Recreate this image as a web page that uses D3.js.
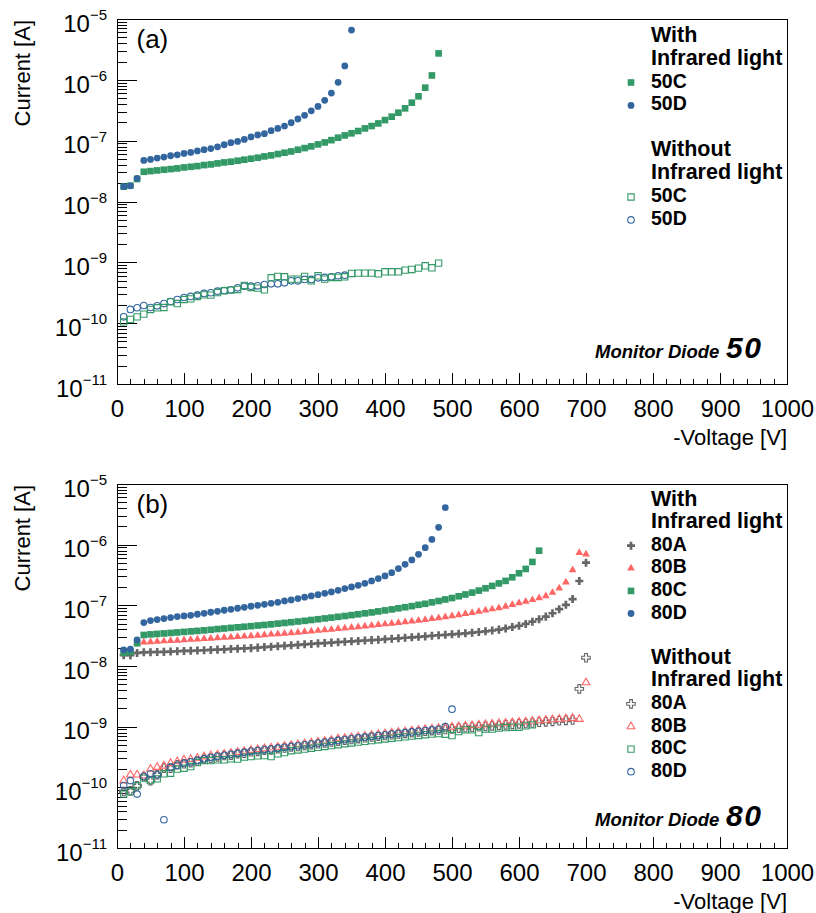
<!DOCTYPE html>
<html>
<head>
<meta charset="utf-8">
<script src="https://cdn.jsdelivr.net/npm/d3@7"></script>
<style>
  html, body { margin: 0; padding: 0; background: #fff; }
  svg { display: block; }
</style>
</head>
<body>
<svg id="chart" width="816" height="913"></svg>
<script>
// ---------------------------------------------------------------
// Leakage current vs reverse bias of the monitor diodes
// ---------------------------------------------------------------

// Bias voltage of each measurement step [V]
const VOLTS = [10, 20, 30, 40, 50, 60, 70, 80, 90, 100,
  110, 120, 130, 140, 150, 160, 170, 180, 190, 200,
  210, 220, 230, 240, 250, 260, 270, 280, 290, 300,
  310, 320, 330, 340, 350, 360, 370, 380, 390, 400,
  410, 420, 430, 440, 450, 460, 470, 480, 490, 500,
  510, 520, 530, 540, 550, 560, 570, 580, 590, 600,
  610, 620, 630, 640, 650, 660, 670, 680, 690, 700];

// Axis ticks
const X_TICKS = [0, 100, 200, 300, 400, 500, 600, 700, 800, 900, 1000];
const Y_TICKS = [1e-11, 1e-10, 1e-9, 1e-8, 1e-7, 1e-6, 1e-5];

// ---- Monitor diode 50: currents [A] ----
const IR_50C = [1.75e-8, 1.82e-8, 2.34e-8, 3.08e-8, 3.16e-8, 3.24e-8, 3.33e-8, 3.41e-8, 3.50e-8, 3.63e-8,
  3.72e-8, 3.82e-8, 3.97e-8, 4.07e-8, 4.23e-8, 4.39e-8, 4.51e-8, 4.68e-8, 4.86e-8, 5.05e-8,
  5.24e-8, 5.51e-8, 5.73e-8, 6.03e-8, 6.34e-8, 6.65e-8, 7.10e-8, 7.55e-8, 8.05e-8, 8.69e-8,
  9.35e-8, 1.02e-7, 1.12e-7, 1.22e-7, 1.32e-7, 1.44e-7, 1.59e-7, 1.74e-7, 1.92e-7, 2.18e-7,
  2.48e-7, 2.88e-7, 3.40e-7, 4.21e-7, 5.35e-7, 7.43e-7, 1.18e-6, 2.72e-6];
const IR_50D = [1.75e-8, 1.81e-8, 2.40e-8, 4.74e-8, 4.92e-8, 5.18e-8, 5.37e-8, 5.65e-8, 5.86e-8, 6.18e-8,
  6.41e-8, 6.78e-8, 7.10e-8, 7.42e-8, 7.94e-8, 8.57e-8, 9.25e-8, 9.73e-8, 1.05e-7, 1.15e-7,
  1.24e-7, 1.30e-7, 1.46e-7, 1.59e-7, 1.74e-7, 1.97e-7, 2.27e-7, 2.61e-7, 3.10e-7, 3.66e-7,
  4.60e-7, 6.07e-7, 9.10e-7, 1.69e-6, 6.59e-6];
const DARK_50C = [1.05e-10, 1.15e-10, 1.27e-10, 1.41e-10, 1.68e-10, 1.79e-10, 1.81e-10, 2.24e-10, 2.10e-10, 2.45e-10,
  2.51e-10, 2.75e-10, 2.92e-10, 2.89e-10, 3.19e-10, 3.40e-10, 3.49e-10, 3.58e-10, 4.17e-10, 3.86e-10,
  3.77e-10, 3.53e-10, 5.57e-10, 5.86e-10, 5.78e-10, 5.30e-10, 5.30e-10, 5.86e-10, 4.97e-10, 6.01e-10,
  5.30e-10, 5.64e-10, 5.64e-10, 5.78e-10, 6.56e-10, 6.64e-10, 6.64e-10, 6.64e-10, 6.48e-10, 6.98e-10,
  6.98e-10, 6.98e-10, 7.44e-10, 7.64e-10, 8.04e-10, 8.77e-10, 8.13e-10, 9.71e-10];
const DARK_50D = [1.27e-10, 1.68e-10, 1.79e-10, 1.95e-10, 1.81e-10, 1.93e-10, 2.10e-10, 2.27e-10, 2.45e-10, 2.64e-10,
  2.75e-10, 2.89e-10, 3.08e-10, 3.16e-10, 3.36e-10, 3.44e-10, 3.53e-10, 3.81e-10, 4.06e-10, 4.06e-10,
  4.11e-10, 4.32e-10, 4.43e-10, 4.43e-10, 4.60e-10, 4.97e-10, 4.97e-10, 5.23e-10, 5.23e-10, 5.57e-10,
  5.64e-10, 5.78e-10, 6.01e-10, 6.15e-10];

// ---- Monitor diode 80: currents [A] ----
const IR_80A = [1.51e-8, 1.51e-8, 1.64e-8, 1.68e-8, 1.69e-8, 1.70e-8, 1.71e-8, 1.73e-8, 1.75e-8, 1.77e-8,
  1.78e-8, 1.80e-8, 1.82e-8, 1.84e-8, 1.86e-8, 1.88e-8, 1.91e-8, 1.93e-8, 1.95e-8, 1.97e-8,
  2.01e-8, 2.05e-8, 2.08e-8, 2.12e-8, 2.15e-8, 2.19e-8, 2.23e-8, 2.28e-8, 2.31e-8, 2.36e-8,
  2.39e-8, 2.43e-8, 2.47e-8, 2.51e-8, 2.55e-8, 2.59e-8, 2.63e-8, 2.67e-8, 2.71e-8, 2.77e-8,
  2.81e-8, 2.86e-8, 2.92e-8, 2.97e-8, 3.03e-8, 3.08e-8, 3.15e-8, 3.21e-8, 3.27e-8, 3.33e-8,
  3.39e-8, 3.46e-8, 3.54e-8, 3.63e-8, 3.73e-8, 3.85e-8, 3.98e-8, 4.16e-8, 4.38e-8, 4.61e-8,
  4.94e-8, 5.38e-8, 5.90e-8, 6.51e-8, 7.41e-8, 8.63e-8, 1.02e-7, 1.27e-7, 2.52e-7, 5.05e-7];
const IR_80B = [1.66e-8, 1.66e-8, 2.43e-8, 2.47e-8, 2.49e-8, 2.53e-8, 2.57e-8, 2.60e-8, 2.64e-8, 2.68e-8,
  2.72e-8, 2.77e-8, 2.81e-8, 2.85e-8, 2.89e-8, 2.94e-8, 2.98e-8, 3.03e-8, 3.08e-8, 3.13e-8,
  3.19e-8, 3.25e-8, 3.32e-8, 3.38e-8, 3.44e-8, 3.51e-8, 3.58e-8, 3.66e-8, 3.74e-8, 3.83e-8,
  3.92e-8, 4.01e-8, 4.10e-8, 4.20e-8, 4.31e-8, 4.41e-8, 4.53e-8, 4.65e-8, 4.77e-8, 4.90e-8,
  5.03e-8, 5.17e-8, 5.31e-8, 5.47e-8, 5.64e-8, 5.81e-8, 5.99e-8, 6.20e-8, 6.44e-8, 6.69e-8,
  6.95e-8, 7.24e-8, 7.55e-8, 7.91e-8, 8.27e-8, 8.66e-8, 9.06e-8, 9.55e-8, 1.02e-7, 1.09e-7,
  1.16e-7, 1.23e-7, 1.32e-7, 1.43e-7, 1.62e-7, 1.91e-7, 2.40e-7, 3.83e-7, 7.38e-7, 6.95e-7];
const IR_80C = [1.66e-8, 1.71e-8, 2.37e-8, 3.25e-8, 3.32e-8, 3.38e-8, 3.44e-8, 3.51e-8, 3.58e-8, 3.65e-8,
  3.72e-8, 3.79e-8, 3.87e-8, 3.96e-8, 4.06e-8, 4.15e-8, 4.25e-8, 4.34e-8, 4.44e-8, 4.54e-8,
  4.65e-8, 4.75e-8, 4.86e-8, 5.00e-8, 5.13e-8, 5.27e-8, 5.41e-8, 5.55e-8, 5.73e-8, 5.90e-8,
  6.08e-8, 6.27e-8, 6.47e-8, 6.67e-8, 6.90e-8, 7.13e-8, 7.38e-8, 7.64e-8, 7.94e-8, 8.24e-8,
  8.56e-8, 8.93e-8, 9.31e-8, 9.70e-8, 1.02e-7, 1.06e-7, 1.12e-7, 1.18e-7, 1.25e-7, 1.32e-7,
  1.41e-7, 1.51e-7, 1.62e-7, 1.75e-7, 1.91e-7, 2.09e-7, 2.30e-7, 2.53e-7, 2.90e-7, 3.38e-7,
  3.98e-7, 5.19e-7, 7.96e-7];
const IR_80D = [1.84e-8, 1.89e-8, 2.69e-8, 5.20e-8, 5.61e-8, 5.82e-8, 6.04e-8, 6.28e-8, 6.52e-8, 6.69e-8,
  6.86e-8, 7.13e-8, 7.40e-8, 7.69e-8, 7.98e-8, 8.30e-8, 8.61e-8, 8.95e-8, 9.29e-8, 9.66e-8,
  1.00e-7, 1.04e-7, 1.08e-7, 1.12e-7, 1.18e-7, 1.23e-7, 1.29e-7, 1.36e-7, 1.43e-7, 1.50e-7,
  1.58e-7, 1.66e-7, 1.77e-7, 1.89e-7, 2.01e-7, 2.14e-7, 2.31e-7, 2.52e-7, 2.76e-7, 3.05e-7,
  3.46e-7, 4.03e-7, 4.75e-7, 5.60e-7, 6.94e-7, 8.93e-7, 1.22e-6, 1.93e-6, 4.07e-6];
const DARK_80A = [8.53e-11, 8.75e-11, 1.06e-10, 1.51e-10, 1.29e-10, 1.61e-10, 2.07e-10, 2.07e-10, 2.35e-10, 2.44e-10,
  2.55e-10, 2.70e-10, 2.92e-10, 3.02e-10, 3.18e-10, 3.35e-10, 3.40e-10, 3.60e-10, 3.65e-10, 3.85e-10,
  3.92e-10, 4.10e-10, 4.15e-10, 4.35e-10, 4.45e-10, 4.62e-10, 4.72e-10, 4.90e-10, 5.05e-10, 5.22e-10,
  5.40e-10, 5.60e-10, 5.78e-10, 5.98e-10, 6.15e-10, 6.35e-10, 6.55e-10, 6.75e-10, 6.95e-10, 7.15e-10,
  7.35e-10, 7.55e-10, 7.75e-10, 7.98e-10, 8.20e-10, 8.40e-10, 8.60e-10, 8.80e-10, 9.00e-10, 9.20e-10,
  9.40e-10, 9.60e-10, 9.78e-10, 9.96e-10, 1.01e-9, 1.03e-9, 1.05e-9, 1.07e-9, 1.09e-9, 1.11e-9,
  1.13e-9, 1.15e-9, 1.18e-9, 1.20e-9, 1.22e-9, 1.25e-9, 1.27e-9, 1.29e-9, 4.20e-9, 1.37e-8];
const DARK_80B = [1.29e-10, 1.61e-10, 1.61e-10, 1.55e-10, 2.00e-10, 2.15e-10, 2.26e-10, 2.50e-10, 2.66e-10, 2.84e-10,
  2.90e-10, 3.05e-10, 3.20e-10, 3.35e-10, 3.45e-10, 3.55e-10, 3.68e-10, 3.80e-10, 3.95e-10, 4.10e-10,
  4.22e-10, 4.35e-10, 4.48e-10, 4.62e-10, 4.78e-10, 4.92e-10, 5.07e-10, 5.25e-10, 5.41e-10, 5.60e-10,
  5.79e-10, 6.00e-10, 6.35e-10, 6.42e-10, 6.62e-10, 6.82e-10, 7.03e-10, 7.25e-10, 7.47e-10, 7.70e-10,
  7.91e-10, 8.12e-10, 8.34e-10, 8.56e-10, 8.80e-10, 9.04e-10, 9.25e-10, 9.46e-10, 9.67e-10, 9.90e-10,
  1.01e-9, 1.03e-9, 1.05e-9, 1.07e-9, 1.09e-9, 1.11e-9, 1.13e-9, 1.15e-9, 1.17e-9, 1.19e-9,
  1.21e-9, 1.24e-9, 1.26e-9, 1.29e-9, 1.31e-9, 1.34e-9, 1.36e-9, 1.38e-9, 1.33e-9, 5.33e-9];
const DARK_80C = [7.73e-11, 8.53e-11, 1.06e-10, 1.42e-10, 1.29e-10, 1.38e-10, 1.67e-10, 1.71e-10, 2.00e-10, 2.07e-10,
  2.20e-10, 2.56e-10, 2.76e-10, 2.76e-10, 2.84e-10, 2.84e-10, 2.95e-10, 2.92e-10, 3.15e-10, 3.22e-10,
  3.30e-10, 3.34e-10, 3.22e-10, 3.56e-10, 3.74e-10, 4.01e-10, 4.13e-10, 4.28e-10, 4.41e-10, 4.57e-10,
  4.72e-10, 4.89e-10, 5.05e-10, 5.23e-10, 5.39e-10, 5.56e-10, 5.73e-10, 5.91e-10, 6.09e-10, 6.27e-10,
  6.45e-10, 6.62e-10, 6.79e-10, 6.98e-10, 7.17e-10, 7.37e-10, 7.53e-10, 7.71e-10, 7.50e-10, 7.13e-10,
  8.30e-10, 8.86e-10, 8.86e-10, 8.00e-10, 9.10e-10, 9.10e-10, 9.45e-10, 9.67e-10, 9.81e-10, 9.81e-10,
  1.03e-9, 1.07e-9];
const DARK_80D = [1.07e-10, 1.29e-10, 7.73e-11, 1.51e-10, 1.67e-10, 1.61e-10, 2.92e-11, 2.15e-10, 2.30e-10, 2.50e-10,
  2.63e-10, 2.78e-10, 2.95e-10, 3.12e-10, 3.24e-10, 3.37e-10, 3.50e-10, 3.63e-10, 3.77e-10, 3.93e-10,
  4.04e-10, 4.15e-10, 4.28e-10, 4.42e-10, 4.57e-10, 4.70e-10, 4.85e-10, 5.02e-10, 5.17e-10, 5.36e-10,
  5.54e-10, 5.73e-10, 5.93e-10, 6.13e-10, 6.32e-10, 6.52e-10, 6.72e-10, 6.93e-10, 7.14e-10, 7.35e-10,
  7.56e-10, 7.76e-10, 7.97e-10, 8.18e-10, 8.40e-10, 8.64e-10, 8.83e-10, 9.04e-10, 1.00e-9, 1.94e-9];

// ---------------------------------------------------------------
// Styling
// ---------------------------------------------------------------
const FONT = '"Liberation Sans", Arial, Helvetica, sans-serif';
const BLUE = "#33669e", GREEN = "#339966", RED = "#ff6666", GRAY = "#666666";

// marker look: symbol type and area; names starting with "o" are hollow
const MARK = {
  circle:   { type: d3.symbolCircle,   size: 36 },
  square:   { type: d3.symbolSquare,   size: 44 },
  triangle: { type: d3.symbolTriangle, size: 26 },
  cross:    { type: d3.symbolCross,    size: 36 },
  ocircle:  { type: d3.symbolCircle,   size: 34 },
  osquare:  { type: d3.symbolSquare,   size: 40 },
  otriangle:{ type: d3.symbolTriangle, size: 26 },
  ocross:   { type: d3.symbolCross,    size: 40 }
};

const X0 = 117, X1 = 787;
const svg = d3.select("#chart");
svg.append("rect").attr("width", 816).attr("height", 913).attr("fill", "#fff");

function markerPath(kind) {
  return d3.symbol().type(MARK[kind].type).size(MARK[kind].size)();
}
function styleMarker(sel, kind, color) {
  const hollow = kind.startsWith("o");
  sel.attr("d", markerPath(kind))
    .attr("fill", hollow ? "none" : color)
    .attr("stroke", hollow ? color : "none")
    .attr("stroke-width", hollow ? 1.1 : 0);
}

function drawPanel(cfg) {
  const { top, bottom } = cfg;
  const g = svg.append("g");
  const x = d3.scaleLinear().domain([0, 1000]).range([X0, X1]);
  const y = d3.scaleLog().domain([1e-11, 1e-5]).range([bottom, top]);

  // --- x axis: minor and major ticks pointing inwards
  const xMinor = x.ticks(50).filter(v => v % 100 !== 0);
  g.append("g").attr("transform", `translate(0,${bottom})`)
    .call(d3.axisBottom(x).tickValues(xMinor).tickSizeInner(-5.5).tickSizeOuter(0).tickFormat(""))
    .call(a => a.select(".domain").remove());
  const xa = g.append("g").attr("transform", `translate(0,${bottom})`)
    .call(d3.axisBottom(x).tickValues(X_TICKS).tickSizeInner(-11).tickSizeOuter(0)
      .tickPadding(16).tickFormat(d3.format("d")))
    .call(a => a.select(".domain").remove());
  xa.attr("font-family", FONT).attr("font-size", 24);
  xa.selectAll("text").attr("fill", "#000");

  // --- y axis: log ticks
  const yMinor = y.ticks().filter(v => !Y_TICKS.some(t => Math.abs(v / t - 1) < 1e-6));
  g.append("g").attr("transform", `translate(${X0},0)`)
    .call(d3.axisLeft(y).tickValues(yMinor).tickSizeInner(-10).tickSizeOuter(0).tickFormat(""))
    .call(a => a.select(".domain").remove());
  g.append("g").attr("transform", `translate(${X0},0)`)
    .call(d3.axisLeft(y).tickValues(Y_TICKS).tickSizeInner(-20).tickSizeOuter(0).tickFormat(""))
    .call(a => a.select(".domain").remove());
  g.selectAll(".tick line").attr("stroke", "#000").attr("shape-rendering", "crispEdges");

  // decade labels 10^n
  const lab = g.append("g").attr("font-family", FONT).attr("fill", "#000");
  Y_TICKS.forEach(t => {
    const e = Math.round(Math.log10(t));
    const tx = lab.append("text").attr("x", X0 - 10).attr("y", y(t) + 12.7)
      .attr("text-anchor", "end").attr("font-size", 24);
    tx.append("tspan").text("10");
    tx.append("tspan").attr("dy", -11.7).attr("font-size", 15).text("\u2212" + Math.abs(e));
  });

  // frame
  g.append("rect").attr("x", X0).attr("y", top).attr("width", X1 - X0).attr("height", bottom - top)
    .attr("fill", "none").attr("stroke", "#000").attr("stroke-width", 1).attr("shape-rendering", "crispEdges");

  // axis titles
  g.append("text").attr("x", X1).attr("y", bottom + 61).attr("text-anchor", "end")
    .attr("font-family", FONT).attr("font-size", 22).text("-Voltage [V]");
  g.append("text").attr("transform", `translate(29.5,${top + 1}) rotate(-90)`).attr("text-anchor", "end")
    .attr("font-family", FONT).attr("font-size", 22).text("Current [A]");

  // panel tag
  g.append("text").attr("x", 136.5).attr("y", top + 28.5).attr("font-family", FONT)
    .attr("font-size", 26).text(cfg.tag);

  // data points
  cfg.series.forEach(s => {
    const pts = s.values.map((v, i) => [VOLTS[i], v]);
    g.append("g").selectAll("path").data(pts).join("path")
      .attr("transform", d => `translate(${x(d[0])},${y(d[1])})`)
      .call(sel => styleMarker(sel, s.kind, s.color));
  });

  // legend
  const lg = g.append("g").attr("font-family", FONT).attr("font-weight", "bold").attr("fill", "#000");
  cfg.legend.forEach((row, k) => {
    if (!row) return;
    const by = cfg.legendY + k * cfg.legendStep;
    if (row.header) {
      lg.append("text").attr("x", 651).attr("y", by).attr("font-size", 21.5).text(row.header);
    } else {
      lg.append("text").attr("x", 651).attr("y", by).attr("font-size", 19.5).text(row.label);
      lg.append("path").attr("transform", `translate(631,${by - 5})`)
        .call(sel => styleMarker(sel, row.kind, row.color));
    }
  });

  // diode tag
  const tagY = cfg.diodeY;
  g.append("text").attr("x", 595).attr("y", tagY).attr("font-family", FONT)
    .attr("font-weight", "bold").attr("font-style", "italic").attr("font-size", 18.5).text("Monitor Diode");
  g.append("text").attr("x", 726).attr("y", tagY).attr("font-family", FONT)
    .attr("font-weight", "bold").attr("font-style", "italic").attr("font-size", 30)
    .attr("letter-spacing", 1.5).text(cfg.diode);
}

// ---- panel (a): diode 50
drawPanel({
  top: 19, bottom: 384, tag: "(a)", diode: "50", diodeY: 357.5,
  series: [
    { values: DARK_50D, kind: "ocircle", color: BLUE },
    { values: DARK_50C, kind: "osquare", color: GREEN },
    { values: IR_50C, kind: "square", color: GREEN },
    { values: IR_50D, kind: "circle", color: BLUE }
  ],
  legendY: 41.7, legendStep: 22.9,
  legend: [
    { header: "With" }, { header: "Infrared light" },
    { label: "50C", kind: "square", color: GREEN },
    { label: "50D", kind: "circle", color: BLUE },
    null,
    { header: "Without" }, { header: "Infrared light" },
    { label: "50C", kind: "osquare", color: GREEN },
    { label: "50D", kind: "ocircle", color: BLUE }
  ]
});

// ---- panel (b): diode 80
drawPanel({
  top: 484, bottom: 848, tag: "(b)", diode: "80", diodeY: 826,
  series: [
    { values: DARK_80A, kind: "ocross", color: GRAY },
    { values: DARK_80B, kind: "otriangle", color: RED },
    { values: DARK_80C, kind: "osquare", color: GREEN },
    { values: DARK_80D, kind: "ocircle", color: BLUE },
    { values: IR_80A, kind: "cross", color: GRAY },
    { values: IR_80B, kind: "triangle", color: RED },
    { values: IR_80C, kind: "square", color: GREEN },
    { values: IR_80D, kind: "circle", color: BLUE }
  ],
  legendY: 505.5, legendStep: 22.6,
  legend: [
    { header: "With" }, { header: "Infrared light" },
    { label: "80A", kind: "cross", color: GRAY },
    { label: "80B", kind: "triangle", color: RED },
    { label: "80C", kind: "square", color: GREEN },
    { label: "80D", kind: "circle", color: BLUE },
    null,
    { header: "Without" }, { header: "Infrared light" },
    { label: "80A", kind: "ocross", color: GRAY },
    { label: "80B", kind: "otriangle", color: RED },
    { label: "80C", kind: "osquare", color: GREEN },
    { label: "80D", kind: "ocircle", color: BLUE }
  ]
});
</script>
</body>
</html>
